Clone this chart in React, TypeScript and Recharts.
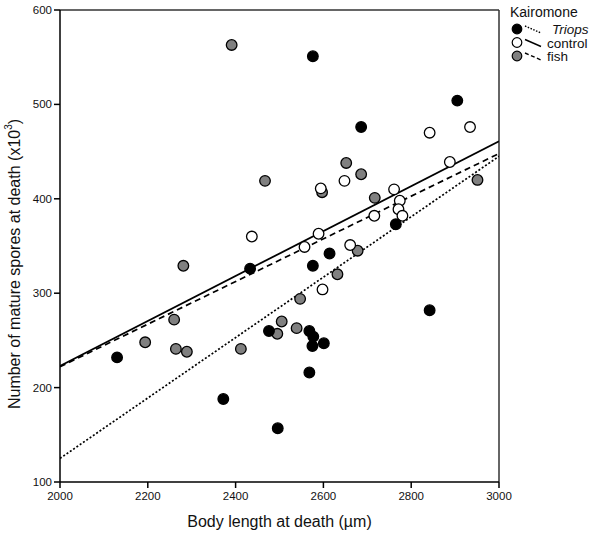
import {
  ComposedChart,
  Scatter,
  Line,
  XAxis,
  YAxis,
  ReferenceLine,
} from "recharts";

// body length (µm) / mature spores (x10^3)
const triopsPoints = [
  { x: 2130, y: 232 }, { x: 2433, y: 326 }, { x: 2372, y: 188 }, { x: 2476, y: 260 },
  { x: 2496, y: 157 }, { x: 2568, y: 260 }, { x: 2577, y: 254 }, { x: 2575, y: 244 },
  { x: 2601, y: 247 }, { x: 2568, y: 216 }, { x: 2576, y: 329 }, { x: 2614, y: 342 },
  { x: 2686, y: 476 }, { x: 2576, y: 551 }, { x: 2905, y: 504 }, { x: 2842, y: 282 },
  { x: 2765, y: 373 },
];

const controlPoints = [
  { x: 2437, y: 360 }, { x: 2557, y: 349 }, { x: 2589, y: 363 }, { x: 2661, y: 351 },
  { x: 2598, y: 304 }, { x: 2594, y: 411 }, { x: 2648, y: 419 }, { x: 2716, y: 382 },
  { x: 2761, y: 410 }, { x: 2774, y: 398 }, { x: 2771, y: 389 }, { x: 2780, y: 382 },
  { x: 2842, y: 470 }, { x: 2888, y: 439 }, { x: 2934, y: 476 },
];

const fishPoints = [
  { x: 2391, y: 563 }, { x: 2467, y: 419 }, { x: 2652, y: 438 }, { x: 2686, y: 426 },
  { x: 2597, y: 407 }, { x: 2717, y: 401 }, { x: 2951, y: 420 }, { x: 2678, y: 345 },
  { x: 2632, y: 320 }, { x: 2547, y: 294 }, { x: 2505, y: 270 }, { x: 2539, y: 263 },
  { x: 2495, y: 257 }, { x: 2281, y: 329 }, { x: 2260, y: 272 }, { x: 2194, y: 248 },
  { x: 2264, y: 241 }, { x: 2289, y: 238 }, { x: 2412, y: 241 },
];

// fitted regression lines (endpoints)
const triopsFit = [{ x: 2000, y: 125 }, { x: 3000, y: 445 }];
const controlFit = [{ x: 2000, y: 223 }, { x: 3000, y: 461 }];
const fishFit = [{ x: 2000, y: 222 }, { x: 3000, y: 448 }];

const xTicks = [2000, 2200, 2400, 2600, 2800, 3000];
const yTicks = [100, 200, 300, 400, 500, 600];

const FONT = "'Liberation Sans', Arial, sans-serif";

const legendRows = [
  { name: "Triops", fill: "#000", dash: "1.5 1.5", italic: true },
  { name: "control", fill: "#fff", dash: undefined, italic: false },
  { name: "fish", fill: "#808080", dash: "4 2.5", italic: false },
];

function Dot(props: any) {
  const { cx, cy, fill } = props;
  if (cx == null || cy == null) return null;
  return <circle cx={cx} cy={cy} r={5.3} fill={fill} stroke="#000" strokeWidth={1.3} />;
}

function YTitle(props: any) {
  const { viewBox } = props;
  const cx = 14;
  const cy = viewBox.y + viewBox.height / 2 + 18;
  return (
    <text
      x={cx}
      y={cy}
      transform={`rotate(-90 ${cx} ${cy})`}
      textAnchor="middle"
      dominantBaseline="central"
      fontFamily={FONT}
      fontSize={16}
      fill="#111"
    >
      Number of mature spores at death (x10<tspan dy={-6} fontSize={10}>3</tspan><tspan dy={6}>)</tspan>
    </text>
  );
}

export default function App() {
  return (
    <div style={{ position: "absolute", left: 0, top: 0, width: 600, height: 538, background: "#fff" }}>
      <ComposedChart width={600} height={538} margin={{ top: 10, right: 101, bottom: 0, left: 0 }}>
        <XAxis
          type="number"
          dataKey="x"
          domain={[2000, 3000]}
          ticks={xTicks}
          allowDataOverflow
          height={56}
          stroke="#000"
          strokeWidth={1.5}
          tickSize={6}
          tickMargin={4}
          tick={{ fill: "#111", fontSize: 11.5, fontFamily: FONT }}
          label={{
            value: "Body length at death (µm)",
            position: "insideBottom",
            offset: 11,
            fill: "#111",
            fontSize: 16,
            fontFamily: FONT,
          }}
        />
        <YAxis
          type="number"
          dataKey="y"
          domain={[100, 600]}
          ticks={yTicks}
          allowDataOverflow
          width={60}
          stroke="#000"
          strokeWidth={1.5}
          tickSize={6}
          tickMargin={2}
          tick={{ fill: "#111", fontSize: 11.5, fontFamily: FONT }}
          label={<YTitle />}
        />
        <ReferenceLine y={600} stroke="#333" strokeWidth={1.5} />
        <ReferenceLine x={3000} stroke="#333" strokeWidth={1.5} />
        <Line data={triopsFit} dataKey="y" stroke="#000" strokeWidth={1.7} strokeDasharray="2 2" dot={false} isAnimationActive={false} />
        <Line data={controlFit} dataKey="y" stroke="#000" strokeWidth={1.8} dot={false} isAnimationActive={false} />
        <Line data={fishFit} dataKey="y" stroke="#000" strokeWidth={1.7} strokeDasharray="6 4" dot={false} isAnimationActive={false} />
        <Scatter data={fishPoints} dataKey="y" fill="#808080" shape={<Dot />} isAnimationActive={false} />
        <Scatter data={controlPoints} dataKey="y" fill="#fff" shape={<Dot />} isAnimationActive={false} />
        <Scatter data={triopsPoints} dataKey="y" fill="#000" shape={<Dot />} isAnimationActive={false} />
      </ComposedChart>
      <svg width={100} height={70} style={{ position: "absolute", left: 500, top: 0 }}>
        <text x={10} y={17} fontFamily={FONT} fontSize={14} fill="#111">
          Kairomone
        </text>
        {legendRows.map((r, i) => {
          const y = 29 + i * 13.5;
          return (
            <g key={r.name}>
              <circle cx={17} cy={y} r={4.8} fill={r.fill} stroke="#000" strokeWidth={1.2} />
              <line x1={25} y1={y - 3} x2={41} y2={y + 4} stroke="#000" strokeWidth={1.4} strokeDasharray={r.dash} />
              <text
                x={r.italic ? 52 : 47}
                y={y + 5}
                fontFamily={FONT}
                fontSize={13.5}
                fontStyle={r.italic ? "italic" : "normal"}
                fill="#111"
              >
                {r.name}
              </text>
            </g>
          );
        })}
      </svg>
    </div>
  );
}
